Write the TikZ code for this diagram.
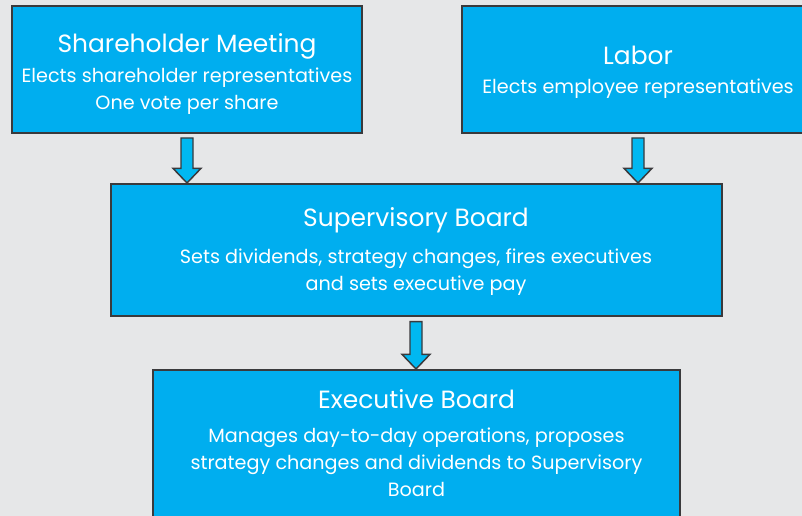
\documentclass[tikz,border=0pt]{standalone}
\usepackage{fontspec}
\setmainfont{Poppins}
\usepackage{tikz}
\usetikzlibrary{positioning,calc}

\definecolor{bggray}{HTML}{E6E7E8}
\definecolor{boxcyan}{HTML}{00AEEF}
\definecolor{arrowcyan}{HTML}{00B8F1}
\definecolor{boxline}{HTML}{3A3A3C}

\newcommand{\boxtitle}{\fontsize{18.7}{22}\selectfont}
\newcommand{\boxbody}{\fontsize{14.4}{20.3}\selectfont}
\newcommand{\toppad}[1]{\rule{0pt}{#1}}
\newcommand{\botpad}[1]{\rule[-#1]{0pt}{#1}}

\tikzset{
	orgbox/.style={draw=boxline, fill=boxcyan, line width=1.5pt, text=white,
		align=center, inner sep=0pt, font=\boxbody},
	blockarrow/.style={draw=boxline, fill=arrowcyan, line width=1.1pt, line join=miter,
		to path={let \p1=(\tikztostart), \p2=(\tikztotarget) in
			(\x1-4.5pt,\y1) -- (\x1+4.5pt,\y1) -- (\x1+4.5pt,\y2+11pt)
			-- (\x1+10.5pt,\y2+11pt) -- (\x2,\y2) -- (\x1-10.5pt,\y2+11pt)
			-- (\x1-4.5pt,\y2+11pt) -- cycle}}
}

\begin{document}
\begin{tikzpicture}[x=0.75pt,y=-0.75pt]
	%Background
	\fill[bggray] (0,0) rectangle (802,516);
	\useasboundingbox (0,0) rectangle (802,516);
	\clip (0,0) rectangle (802,516);
	%Nodes
	\node[orgbox, minimum width=262.5pt, minimum height=95.25pt] (share) at (187,69.5)
		{{\boxtitle\toppad{20.8pt}Shareholder Meeting}\\[2.2pt]
		 Elects shareholder representatives\\ One vote per share};
	\node[orgbox, minimum width=264pt, minimum height=95.25pt] (labor) at (638,69.5)
		{{\boxtitle\toppad{17.8pt}Labor}\\[1.5pt]
		 Elects employee representatives};
	\node[orgbox, minimum width=458.25pt, minimum height=99pt] (super) at (416,250)
		{{\boxtitle\toppad{16.2pt}Supervisory Board}\\[7.5pt]
		 Sets dividends, strategy changes, fires executives\\ and sets executive pay};
	\node[orgbox, minimum width=395.25pt, minimum height=114pt] (exec) at (416.5,446)
		{{\boxtitle Executive Board}\\[5.5pt]
		 Manages day-to-day operations, proposes\\ strategy changes and dividends to Supervisory\\ Board\botpad{4.5pt}};
	%Arrows
	\draw[blockarrow] ([yshift=-3pt]share.south) to (share.south |- super.north);
	\draw[blockarrow] ([yshift=-3pt]labor.south) to (labor.south |- super.north);
	\draw[blockarrow] ([yshift=-3.5pt]super.south) to (super.south |- exec.north);
\end{tikzpicture}
\end{document}
